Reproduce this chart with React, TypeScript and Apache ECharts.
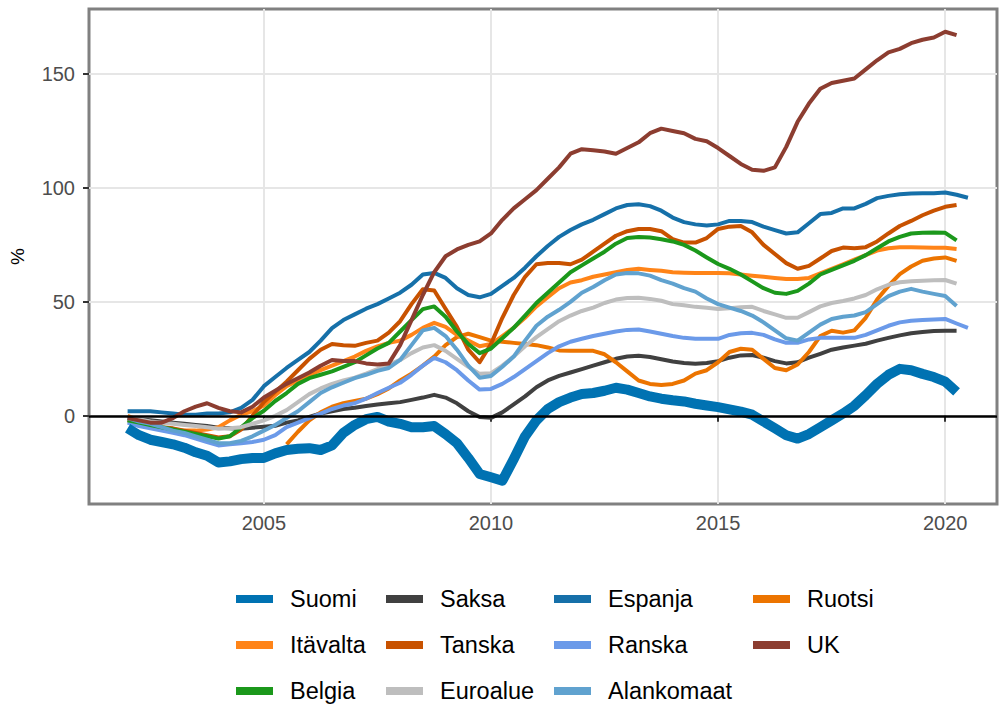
import React, { useEffect, useRef } from "react";
import * as echarts from "echarts";

// Quarterly observations, first quarter = 2002 Q1
const START_YEAR = 2002;
const X_TICKS = [2005, 2010, 2015, 2020];
const Y_TICKS = [0, 50, 100, 150];

const suomi = [
  -5.5, -8.5, -10.5, -11.5, -12.5, -14, -16, -17.5, -20.5, -20, -19, -18.5,
  -18.5, -16.5, -15, -14.5, -14.2, -15, -13, -7.5, -4, -1.5, -0.5, -2.5,
  -3.5, -5, -5, -4.5, -8, -12, -18.5, -25.5, -27, -28.5, -19, -9,
  -2, 3, 6, 8, 9.6, 10, 11, 12.3, 11.5, 10, 8.5, 7.5,
  6.8, 6.3, 5.3, 4.5, 3.8, 2.8, 1.8, 0.5, -2.5, -5.5, -8.5, -10,
  -8, -5, -2, 1, 4.4, 9, 14, 18, 20.6, 20, 18.4, 17, 15, 10.5,
];
const saksa = [
  -1, -1.5, -2, -2.5, -3, -3.5, -4, -4.5, -5.2, -5.5, -5.7, -5.2,
  -4.8, -4.4, -3, -2, -0.5, 1, 2, 3, 3.5, 4.3, 5, 5.5,
  6, 7, 8, 9.2, 8, 5.5, 2, -0.5, -0.9, 1.5, 5, 8.5,
  12.5, 15.5, 17.5, 19, 20.5, 22, 23.5, 25, 26, 26.3, 25.8, 24.8,
  23.8, 23.2, 22.8, 23.2, 24, 25.5, 26.5, 26.7, 25.5, 24, 23, 23.5,
  25.5, 27.2, 29, 30, 30.8, 31.6, 33, 34.2, 35.3, 36.2, 36.8, 37.2, 37.3, 37.3,
];
const espanja = [
  2, 2, 2, 1.5, 1, 0.5, 0.5, 1, 1, 1.5, 3.5, 7,
  13, 17, 21, 24.5, 28, 33, 38.5, 42, 44.5, 47, 49, 51.5,
  54, 57.5, 62, 62.7, 60.5, 56, 53, 52, 53.5, 57, 60.5, 65,
  70, 74.5, 78.5, 81.5, 84, 86, 88.5, 91, 92.5, 92.8, 92, 90,
  87, 85, 84, 83.5, 84, 85.5, 85.5, 85, 83, 81.5, 80, 80.5,
  84.5, 88.5, 89, 91, 91, 93, 95.5, 96.5, 97.2, 97.5, 97.6, 97.7, 98, 97, 95.7,
];
const ruotsi = [
  null, null, null, null, null, null, null, null, null, null, null, null,
  null, null, -12.5, -7, -2, 1.5, 4, 5.5, 6.5, 7.5, 9.5, 12,
  15.5, 18.5, 22, 26, 31, 34.5, 36, 34.5, 33, 32.5, 32, 31.5,
  31, 30, 28.7, 28.5, 28.5, 28.5, 27, 23.5, 19.5, 15.5, 14, 13.5,
  14, 15.5, 18.5, 20, 23.5, 28, 29.4, 29, 25, 21, 20, 22.5,
  28, 35, 37.3, 36.5, 37.5, 43, 51, 57, 62.2, 65.5, 68, 69, 69.5, 68,
];
const itavalta = [
  0, -2, -4, -5.5, -6, -6.5, -6.5, -6, -5, -2, 0.5, 2,
  4.5, 9, 13, 15.5, 18, 20, 22, 24, 26, 28.5, 30.5, 32,
  33, 35.5, 38.6, 40.8, 39, 35.5, 33, 30.5, 31.5, 35, 38.6, 43,
  48, 52, 56, 58.5, 59.5, 61, 62, 63, 64, 64.5, 64, 63.6,
  63, 62.8, 62.7, 62.7, 62.7, 62.5, 62, 61.5, 61, 60.5, 60, 60,
  60.5, 62.5, 64.5, 66.5, 68.5, 70.5, 72.5, 73.5, 74, 74, 73.8, 73.7, 73.7, 73.2,
];
const tanska = [
  -2, -3, -4, -5, -5.5, -6.5, -7.5, -8.5, -9.5, -9, -6, 0,
  6, 10.5, 15, 20, 25, 29, 31.5, 31, 30.7, 32, 33, 36.5,
  41.5, 49, 55.5, 55, 47, 39, 29, 23.5, 31.5, 43, 53, 61,
  66.5, 67, 67, 66.5, 68.5, 72, 75.5, 79, 81, 82, 82, 81,
  77.5, 76, 76, 78, 82, 83, 83.3, 80.5, 75, 71, 67, 64.5,
  65.8, 69, 72.3, 73.8, 73.5, 74, 76.5, 80, 83.3, 85.5, 88, 90, 91.7, 92.5,
];
const ranska = [
  -3, -4.5, -5.5, -6.5, -7.5, -8.5, -10, -11.5, -13, -12.5, -12, -11.5,
  -10.5, -8.5, -5, -3, -1, 1, 3, 4.5, 5.5, 7.5, 10, 12.3,
  14.5, 18, 22, 25.4, 23.5, 20, 15.5, 11.5, 11.8, 14, 17, 20.5,
  24, 27.5, 30.5, 32.5, 33.8, 35, 36, 37, 37.7, 37.9, 37, 36,
  35, 34.2, 33.8, 33.8, 33.8, 35.5, 36.2, 36.4, 35.5, 33.5, 32, 32,
  33.5, 34.2, 34.2, 34.2, 34.2, 35.5, 37.5, 39.5, 41, 41.7, 42, 42.3, 42.5, 40.5, 38.6,
];
const uk = [
  -1, -2, -3, -3, -1, 2, 4, 5.5, 3.5, 2, 1.5, 4,
  8, 11, 14, 16.5, 19, 22, 24.5, 24, 24, 23, 22.5, 23,
  31, 42, 53, 63, 70, 73, 75, 76.5, 80, 86, 91, 95,
  99, 104, 109, 115, 117, 116.5, 116, 115, 117.5, 120, 124, 126,
  125, 124, 121.5, 120.5, 117.5, 114, 110.5, 108, 107.5, 109, 118, 129,
  137, 143.5, 146, 147, 148, 152, 156, 159.5, 161, 163.5, 165, 166, 168.5, 167,
];
const belgia = [
  -2, -3, -4, -5, -6, -7, -8, -9, -10, -9, -5, -1,
  2.2, 6.5, 10, 14, 16.5, 18, 19.5, 21.5, 23.5, 26.5, 29.5, 32,
  37, 42, 46.8, 48, 43.5, 37, 31.5, 27.5, 29.5, 34, 38.6, 44,
  49.5, 54, 58.5, 63, 66, 69, 72, 75.5, 78, 78.5, 78.2, 77.5,
  76.5, 75, 72.5, 69.5, 66.6, 64.5, 62, 59, 56, 54, 53.5, 54.8,
  58, 62, 64, 66, 68, 70.5, 73.5, 76.5, 78.5, 80, 80.3, 80.4, 80.3, 77,
];
const euroalue = [
  -1, -1.5, -2.5, -3, -3.5, -4, -4.5, -5, -5.7, -5.5, -5, -3.5,
  -2, 0, 2.5, 6, 9.5, 12, 14, 15.5, 16.7, 18.5, 20.5, 22.5,
  24.5, 27.5, 30, 31, 28.5, 25, 21.5, 18.4, 18.7, 22, 26, 30.5,
  34.5, 38, 41.5, 44, 46, 47.5, 49.5, 51, 51.7, 51.8, 51.3, 50.5,
  49, 48.5, 47.8, 47.4, 46.9, 47.2, 47.6, 47.8, 46, 44.5, 43, 43,
  45.5, 48, 49.5, 50.4, 51.5, 53, 55.5, 57.5, 58.6, 59, 59.3, 59.5, 59.6, 58,
];
const alankomaat = [
  -1, -2.5, -3.5, -5, -6.5, -7.5, -9, -10.5, -12, -12, -11, -9,
  -6.5, -4, -1, 2, 6, 10, 12.5, 14.5, 16.5, 18, 19.7, 21,
  24.5, 31, 37.5, 38.6, 35, 29, 22, 16.7, 17.5, 21.5, 26, 33,
  39.5, 43.5, 46.5, 50, 54, 56.5, 59.5, 62, 62.7, 62.5, 61.5, 59.5,
  58, 56, 54.5, 51.5, 49, 47.5, 46, 44, 41, 37.5, 34, 33,
  36.5, 40, 42.5, 43.5, 44, 45.5, 49, 52.5, 54.5, 55.7, 54.5, 53.5, 52.6, 48.2,
];

const SERIES: { name: string; values: (number | null)[]; color: string }[] = [
  { name: "Saksa", values: saksa, color: "#404040" },
  { name: "Espanja", values: espanja, color: "#1670A9" },
  { name: "Ruotsi", values: ruotsi, color: "#EC7400" },
  { name: "Itävalta", values: itavalta, color: "#FF8418" },
  { name: "Tanska", values: tanska, color: "#C85200" },
  { name: "Ranska", values: ranska, color: "#6B9AE9" },
  { name: "Belgia", values: belgia, color: "#1B981B" },
  { name: "Euroalue", values: euroalue, color: "#BEBEBE" },
  { name: "Alankomaat", values: alankomaat, color: "#60A2CF" },
  { name: "UK", values: uk, color: "#8C3D30" },
  { name: "Suomi", values: suomi, color: "#0072B2" },
];

const LEGEND_COLUMNS = [
  ["Suomi", "Itävalta", "Belgia"],
  ["Saksa", "Tanska", "Euroalue"],
  ["Espanja", "Ranska", "Alankomaat"],
  ["Ruotsi", "UK"],
];
const LEGEND_X = [236, 386, 554, 753];

const FONT = "'Liberation Sans', Arial, Helvetica, sans-serif";

function toPairs(values: (number | null)[]) {
  const out: [number, number][] = [];
  values.forEach((v, i) => {
    if (v !== null) out.push([START_YEAR + i / 4, v]);
  });
  return out;
}

export default function App() {
  const ref = useRef<HTMLDivElement>(null);
  useEffect(() => {
    if (!ref.current) return;
    const chart = echarts.init(ref.current, undefined, { renderer: "svg" });
    const series: any[] = SERIES.map((s, idx) => ({
      name: s.name,
      type: "line",
      data: toPairs(s.values),
      showSymbol: false,
      symbol: "none",
      z: s.name === "Suomi" ? 4 : 3,
      lineStyle: {
        color: s.color,
        width: s.name === "Suomi" ? 10 : 4,
        join: "round",
        cap: "butt",
      },
      itemStyle: { color: s.color },
      emphasis: { disabled: true },
      ...(idx === 0
        ? {
            markLine: {
              silent: true,
              symbol: "none",
              z: 10,
              animation: false,
              label: { show: false },
              lineStyle: { color: "#000", width: 2.5, type: "solid" },
              emphasis: { disabled: true },
              data: [{ yAxis: 0 }],
            },
          }
        : {}),
    }));

    const legends = LEGEND_COLUMNS.map((names, i) => ({
      orient: "vertical",
      left: LEGEND_X[i],
      top: 586,
      itemWidth: 37,
      itemHeight: 8,
      itemGap: 20,
      icon: "rect",
      selectedMode: false,
      padding: 0,
      data: names,
      textStyle: {
        fontFamily: FONT,
        fontSize: 23.5,
        lineHeight: 26,
        color: "#000",
        padding: [0, 0, 0, 12],
      },
    }));

    chart.setOption({
      animation: false,
      backgroundColor: "#fff",
      textStyle: { fontFamily: FONT },
      grid: {
        left: 88,
        right: 2,
        top: 9,
        bottom: 203,
        show: true,
        borderColor: "#808080",
        borderWidth: 3,
        backgroundColor: "transparent",
      },
      legend: legends,
      xAxis: {
        type: "value",
        min: 2001.15,
        max: 2021.14,
        axisLine: { show: false },
        axisTick: {
          show: true,
          length: 6,
          customValues: X_TICKS,
          lineStyle: { color: "#333", width: 2 },
        },
        axisLabel: {
          show: true,
          customValues: X_TICKS,
          margin: 9,
          fontSize: 20,
          color: "#4D4D4D",
          fontFamily: FONT,
          formatter: (v: number) => String(v),
        },
        splitLine: { show: true, lineStyle: { color: "#E6E6E6", width: 2 } },
      },
      yAxis: {
        type: "value",
        min: -38.7,
        max: 178.5,
        name: "%",
        nameLocation: "middle",
        nameRotate: 90,
        nameGap: 62,
        nameTextStyle: { fontSize: 19, color: "#000", fontFamily: FONT },
        axisLine: { show: false },
        axisTick: {
          show: true,
          length: 6,
          customValues: Y_TICKS,
          lineStyle: { color: "#333", width: 2 },
        },
        axisLabel: {
          show: true,
          customValues: Y_TICKS,
          margin: 14,
          fontSize: 20,
          color: "#4D4D4D",
          fontFamily: FONT,
          formatter: (v: number) => String(v),
        },
        splitLine: { show: true, lineStyle: { color: "#E6E6E6", width: 2 } },
      },
      series,
    });
    return () => chart.dispose();
  }, []);
  return (
    <div
      ref={ref}
      style={{ position: "absolute", left: 0, top: 0, width: 999, height: 707 }}
    />
  );
}
